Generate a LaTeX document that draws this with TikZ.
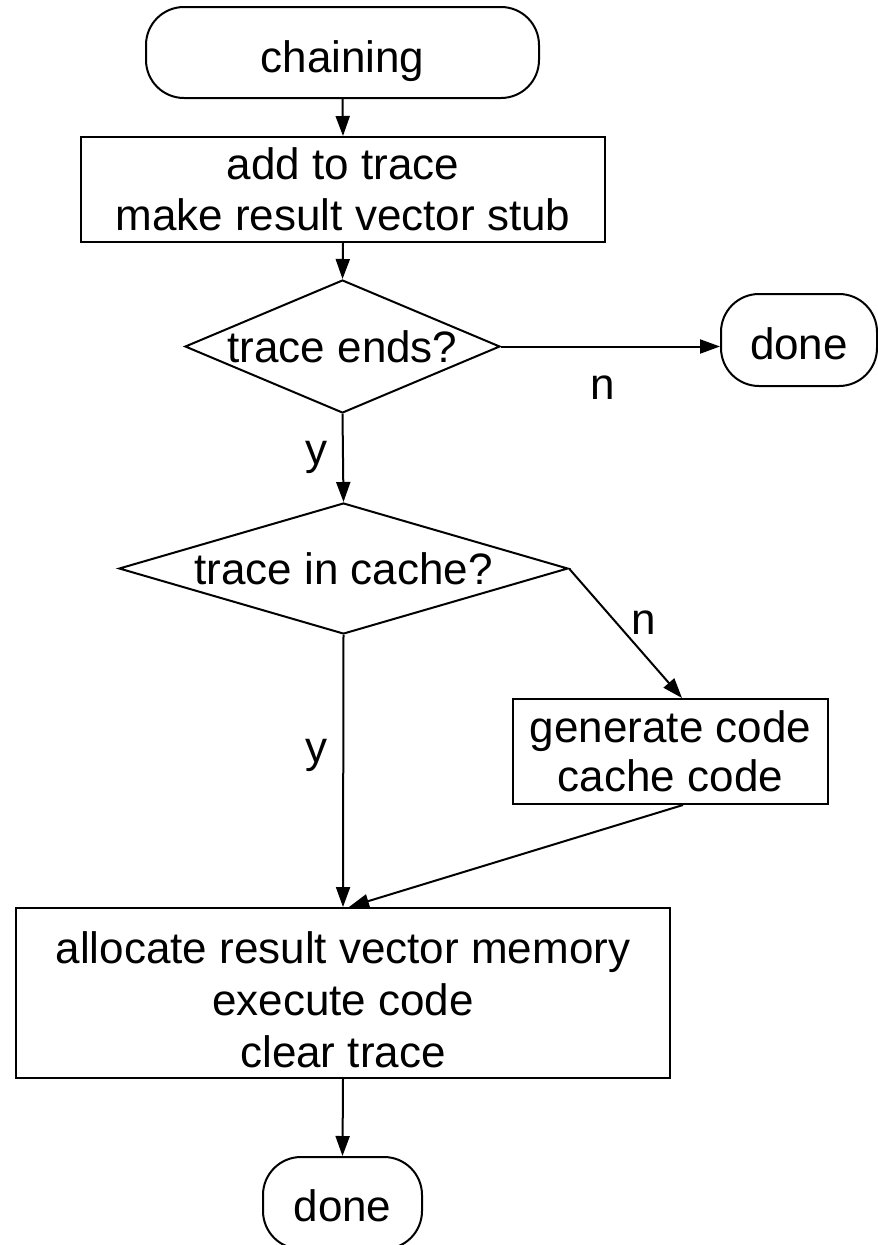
\documentclass[tikz,border=0pt]{standalone}
\usepackage{fontspec}
\setmainfont{Liberation Sans}
\usetikzlibrary{arrows.meta,shapes.geometric,calc}
\begin{document}
\begin{tikzpicture}[x=1pt,y=-1pt,
  every node/.style={font=\fontsize{44}{51}\selectfont},
  proc/.style={draw, line width=2pt, rectangle, align=center, inner sep=0pt},
  term/.style={draw, line width=2pt, rectangle, rounded corners=38pt, inner sep=0pt, align=center},
  dec/.style={draw, line width=2pt, diamond, inner sep=0pt},
  txt/.style={inner sep=0pt, align=center},
  arr/.style={line width=2pt, -{Triangle[length=20pt,width=14pt]}},
  lbl/.style={inner sep=0pt}]
\useasboundingbox (0,0) rectangle (878,1245);

\node[term, minimum width=393pt, minimum height=91pt] (chain) at (342.5,52.5) {};
\node[txt] (chaint) at (342.5,61) {chaining};
\node[proc, minimum width=524pt, minimum height=105pt] (add) at (343,189.5) {add to trace\\make result vector stub};
\node[dec, minimum width=315pt, minimum height=133pt] (d1) at (342.5,346.5) {};
\node[txt] (d1t) at (d1) {trace ends?};
\node[term, minimum width=156pt, minimum height=92pt] (done1) at (799,340) {};
\node[txt] (done1t) at (799,344) {done};
\node[dec, minimum width=449pt, minimum height=131pt] (d2) at (343.5,568.5) {};
\node[txt] (d2t) at (d2) {trace in cache?};
\node[proc, minimum width=315pt, minimum height=105pt] (gen) at (670.5,751.5) {};
\node[txt, font=\fontsize{44}{49}\selectfont] (gent) at (670.5,751.5) {generate code\\cache code};
\node[proc, minimum width=654pt, minimum height=170pt] (exec) at (343,993) {};
\node[txt, font=\fontsize{44}{52}\selectfont] (exect) at (343,1000) {allocate result vector memory\\execute code\\clear trace};
\node[term, minimum width=159pt, minimum height=92pt] (done2) at (342.5,1203) {};
\node[txt] (done2t) at (342.5,1206) {done};

\node[lbl] (ln1) at (603,388) {n};
\node[lbl] (ly1) at (316,457) {y};
\node[lbl] (ln2) at (644,623) {n};
\node[lbl] (ly2) at (316,755) {y};

\draw[arr] (chain.south) -- (add.north);
\draw[arr] (add.south) -- (d1.north);
\draw[arr] (d1.east) -- (d1.east -| done1.west);
\draw[arr] (d1.south) -- (d2.north);
\draw[arr] (d2.east) -- ($(gen.north)+(11.5,0)$);
\draw[arr] (d2.south) -- (exec.north);
\draw[arr] ($(gen.south)+(12.5,0)$) -- ($(exec.north)+(6,0)$);
\draw[arr] (exec.south) -- (done2.north);
\end{tikzpicture}
\end{document}
